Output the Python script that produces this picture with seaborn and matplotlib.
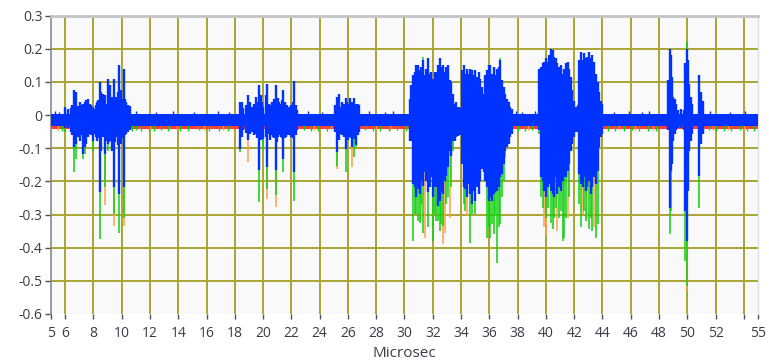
import numpy as np
import pandas as pd
import matplotlib
matplotlib.use("Agg")
import matplotlib.pyplot as plt
import seaborn as sns

# ---------------------------------------------------------------- axes text
x_ticks = [5, 6, 8, 10, 12, 14, 16, 18, 20, 22, 24, 26, 28, 30, 32, 34, 36,
           38, 40, 42, 44, 46, 48, 50, 52, 54, 55]
x_labels = ["5", "6", "8", "10", "12", "14", "16", "18", "20", "22", "24",
            "26", "28", "30", "32", "34", "36", "38", "40", "42", "44", "46",
            "48", "50", "52", "", "55"]
y_ticks = [-0.6, -0.5, -0.4, -0.3, -0.2, -0.1, 0.0, 0.1, 0.2, 0.3]
y_labels = ["-0.6", "-0.5", "-0.4", "-0.3", "-0.2", "-0.1", "0", "0.1",
            "0.2", "0.3"]
x_title = "Microsec"

# ------------------------------------------------- quiet baseline (all time)
base_t = [5.0, 55.0]
blue_base_hi = [0.002, 0.002]
blue_base_lo = [-0.032, -0.032]
red_base_lo = [-0.041, -0.041]

# small upward blips on the quiet baseline
blip_t = [5.3, 5.6, 11.0, 12.4, 13.6, 15.1, 16.8, 17.6, 23.2, 24.2, 27.5,
          28.6, 29.2, 37.9, 38.3, 39.2, 44.8, 45.9, 46.8, 47.3, 51.6, 53.0,
          54.1]
blip_hi = [0.012, 0.010, 0.012, 0.010, 0.012, 0.010, 0.012, 0.010, 0.012,
           0.010, 0.012, 0.010, 0.012, 0.012, 0.010, 0.012, 0.010, 0.012,
           0.010, 0.012, 0.012, 0.010, 0.012]

# green dips just under the baseline
dip_t = [5.8, 7.1, 10.7, 11.0, 11.4, 11.9, 12.3, 12.8, 13.3, 14.1, 14.7,
         15.5, 16.2, 16.9, 17.5, 22.9, 23.4, 23.9, 24.5, 27.2, 27.8, 28.3,
         28.9, 29.5, 30.1, 38.0, 38.5, 39.0, 44.4, 44.9, 45.5, 46.1, 46.6,
         47.2, 47.8, 51.5, 52.0, 52.6, 53.1, 53.7, 54.2, 54.7]
dip_lo = [-0.049, -0.047, -0.049, -0.046, -0.049, -0.047, -0.049, -0.046,
          -0.049, -0.047, -0.049, -0.046, -0.049, -0.047, -0.049, -0.046,
          -0.049, -0.047, -0.049, -0.046, -0.049, -0.047, -0.049, -0.046,
          -0.049, -0.047, -0.049, -0.046, -0.049, -0.047, -0.049, -0.046,
          -0.049, -0.047, -0.049, -0.046, -0.049, -0.047, -0.049, -0.046,
          -0.049, -0.047]

# orange flecks under the baseline
fleck_t = [5.5, 9.3, 12.0, 13.9, 15.8, 17.2, 23.6, 24.8, 28.0, 29.0, 38.7,
           45.2, 46.3, 47.6, 51.8, 52.9, 54.0]
fleck_lo = [-0.045, -0.044, -0.045, -0.044, -0.045, -0.044, -0.045, -0.044,
            -0.045, -0.044, -0.045, -0.044, -0.045, -0.044, -0.045, -0.044,
            -0.045]

# ------------------------------------------------ bursts: blue channel swing
burst_t = [
    # 6-11 us
    6.02, 6.20, 6.40, 6.52, 6.63, 6.75, 6.91, 7.08, 7.17, 7.27, 7.38, 7.50,
    7.62, 7.74, 7.86, 7.97, 8.09, 8.18, 8.28, 8.36, 8.44, 8.56, 8.68, 8.80,
    8.92, 9.03, 9.12, 9.20, 9.34, 9.46, 9.54, 9.62, 9.72, 9.81, 9.90, 9.98,
    10.06, 10.14, 10.23, 10.33, 10.45, 10.57,
    # 18-22.5 us
    18.40, 18.50, 18.60, 18.80, 18.93, 19.08, 19.24, 19.36, 19.48, 19.60,
    19.71, 19.83, 19.92, 20.02, 20.18, 20.30, 20.40, 20.50, 20.61, 20.72,
    20.80, 20.89, 20.97, 21.05, 21.15, 21.24, 21.33, 21.43, 21.52, 21.60,
    21.72, 21.83, 21.99, 22.10, 22.20, 22.30, 22.42,
    # 25-27 us
    25.12, 25.24, 25.36, 25.47, 25.60, 25.71, 25.83, 25.92, 26.00, 26.13,
    26.22, 26.30, 26.38, 26.46, 26.53, 26.60, 26.68, 26.77,
    # 30.3-33.8 us
    30.36, 30.48, 30.60, 30.72, 30.84, 30.95, 31.07, 31.19, 31.31, 31.42,
    31.54, 31.66, 31.78, 31.90, 32.01, 32.13, 32.25, 32.37, 32.48, 32.60,
    32.72, 32.84, 32.96, 33.07, 33.19, 33.31, 33.43, 33.55, 33.66, 33.78,
    # 33.8-37.7 us
    33.84, 33.96, 34.07, 34.19, 34.31, 34.43, 34.55, 34.66, 34.78, 34.90,
    35.02, 35.13, 35.25, 35.37, 35.49, 35.60, 35.72, 35.84, 35.96, 36.08,
    36.20, 36.31, 36.43, 36.55, 36.67, 36.78, 36.90, 37.02, 37.14, 37.26,
    37.37, 37.49, 37.61,
    # 39.5-42.2 us
    39.53, 39.65, 39.76, 39.88, 40.00, 40.12, 40.24, 40.35, 40.47, 40.59,
    40.71, 40.82, 40.94, 41.06, 41.18, 41.29, 41.41, 41.53, 41.65, 41.76,
    41.88, 42.00, 42.12,
    # 42.3-44.1 us
    42.24, 42.35, 42.47, 42.59, 42.71, 42.82, 42.94, 43.06, 43.18, 43.29,
    43.41, 43.53, 43.65, 43.76, 43.88, 44.00,
    # 48.6-51.2 us
    48.64, 48.75, 48.82, 48.92, 49.01, 49.11, 49.22, 49.34, 49.58, 49.76,
    49.86, 49.96, 50.05, 50.14, 50.24, 50.33, 50.82, 50.94, 51.11,
]
burst_hi = [
    0.024, 0.019, 0.020, 0.030, 0.075, 0.070, 0.029, 0.039, 0.030, 0.034,
    0.039, 0.046, 0.049, 0.034, 0.030, 0.024, 0.019, 0.030, 0.039, 0.045,
    0.100, 0.070, 0.065, 0.060, 0.034, 0.110, 0.060, 0.090, 0.055, 0.110,
    0.050, 0.055, 0.070, 0.150, 0.060, 0.075, 0.050, 0.140, 0.050, 0.039,
    0.030, 0.029,
    0.040, 0.040, 0.020, 0.030, 0.061, 0.040, 0.025, 0.035, 0.056, 0.040,
    0.092, 0.061, 0.040, 0.025, 0.060, 0.095, 0.035, 0.030, 0.040, 0.035,
    0.050, 0.092, 0.045, 0.051, 0.040, 0.035, 0.045, 0.075, 0.040, 0.020,
    0.030, 0.025, 0.030, 0.040, 0.102, 0.030, 0.015,
    0.030, 0.056, 0.065, 0.025, 0.040, 0.035, 0.051, 0.040, 0.035, 0.051,
    0.040, 0.035, 0.040, 0.051, 0.035, 0.035, 0.035, 0.030,
    0.049, 0.090, 0.120, 0.130, 0.150, 0.150, 0.135, 0.145, 0.166, 0.120,
    0.140, 0.171, 0.125, 0.130, 0.110, 0.130, 0.130, 0.150, 0.171, 0.145,
    0.150, 0.130, 0.145, 0.150, 0.105, 0.100, 0.065, 0.034, 0.039, 0.024,
    0.024, 0.020, 0.135, 0.150, 0.125, 0.140, 0.125, 0.140, 0.135, 0.120,
    0.135, 0.115, 0.130, 0.110, 0.085, 0.065, 0.120, 0.135, 0.150, 0.150,
    0.125, 0.145, 0.120, 0.140, 0.145, 0.166, 0.105, 0.085, 0.065, 0.049,
    0.039, 0.024, 0.019,
    0.140, 0.145, 0.156, 0.161, 0.171, 0.161, 0.181, 0.201, 0.196, 0.176,
    0.171, 0.156, 0.145, 0.151, 0.125, 0.140, 0.156, 0.161, 0.140, 0.115,
    0.075, 0.044, 0.024,
    0.030, 0.166, 0.191, 0.166, 0.186, 0.171, 0.176, 0.191, 0.171, 0.181,
    0.161, 0.125, 0.100, 0.070, 0.044, 0.034,
    0.105, 0.201, 0.181, 0.115, 0.055, 0.049, 0.034, 0.014, 0.019, 0.014,
    0.156, 0.201, 0.166, 0.095, 0.055, 0.034, 0.120, 0.070, 0.044,
]
burst_lo = [
    -0.038, -0.038, -0.050, -0.060, -0.097, -0.087, -0.067, -0.077, -0.060,
    -0.117, -0.097, -0.087, -0.067, -0.057, -0.060, -0.077, -0.057, -0.065,
    -0.077, -0.070, -0.233, -0.107, -0.067, -0.117, -0.077, -0.087, -0.080,
    -0.077, -0.107, -0.218, -0.080, -0.067, -0.090, -0.238, -0.080, -0.087,
    -0.070, -0.218, -0.060, -0.057, -0.050, -0.046,
    -0.101, -0.066, -0.045, -0.055, -0.076, -0.056, -0.050, -0.060, -0.056,
    -0.070, -0.167, -0.076, -0.060, -0.071, -0.066, -0.157, -0.056, -0.076,
    -0.060, -0.066, -0.070, -0.167, -0.080, -0.066, -0.060, -0.066, -0.070,
    -0.131, -0.070, -0.066, -0.060, -0.061, -0.066, -0.070, -0.172, -0.060,
    -0.045,
    -0.050, -0.111, -0.076, -0.056, -0.060, -0.066, -0.101, -0.070, -0.076,
    -0.066, -0.070, -0.096, -0.065, -0.071, -0.070, -0.091, -0.060, -0.050,
    -0.077, -0.077, -0.208, -0.218, -0.248, -0.223, -0.238, -0.198, -0.213,
    -0.173, -0.198, -0.233, -0.218, -0.188, -0.248, -0.218, -0.218, -0.274,
    -0.259, -0.233, -0.238, -0.198, -0.183, -0.158, -0.107, -0.122, -0.077,
    -0.077, -0.067, -0.062,
    -0.057, -0.060, -0.147, -0.218, -0.223, -0.248, -0.208, -0.238, -0.269,
    -0.228, -0.259, -0.218, -0.238, -0.198, -0.163, -0.173, -0.198, -0.218,
    -0.259, -0.248, -0.259, -0.238, -0.233, -0.228, -0.218, -0.188, -0.178,
    -0.147, -0.107, -0.097, -0.087, -0.067, -0.057,
    -0.046, -0.188, -0.198, -0.228, -0.248, -0.218, -0.208, -0.228, -0.238,
    -0.248, -0.188, -0.238, -0.218, -0.228, -0.198, -0.188, -0.188, -0.168,
    -0.147, -0.107, -0.087, -0.067, -0.052,
    -0.050, -0.178, -0.208, -0.218, -0.188, -0.228, -0.218, -0.198, -0.238,
    -0.218, -0.188, -0.208, -0.168, -0.097, -0.067, -0.057,
    -0.046, -0.279, -0.168, -0.147, -0.077, -0.057, -0.046, -0.040, -0.040,
    -0.046, -0.289, -0.380, -0.228, -0.107, -0.077, -0.057, -0.183, -0.087,
    -0.057,
]

# ---------------------------------------- green channel tails below the blue
green_t = [6.02, 6.63, 6.75, 7.27, 7.38, 7.97, 8.44, 8.80, 9.03, 9.46, 9.81,
           10.14,
           18.40, 19.71, 20.02, 20.30, 20.89, 21.43, 22.20,
           25.24, 25.83, 26.46, 26.60,
           30.60, 30.72, 30.84, 30.95, 31.07, 31.19, 31.31, 31.66, 32.01,
           32.13, 32.25, 32.37, 32.48, 32.60, 32.72, 32.96, 33.07, 33.31,
           33.43,
           34.19, 34.31, 34.66, 34.78, 35.02, 35.84, 35.96, 36.08, 36.20,
           36.31, 36.43, 36.55, 36.67, 36.78, 36.90, 37.02, 37.14,
           39.53, 39.65, 39.76, 40.00, 40.12, 40.35, 40.47, 40.59, 40.71,
           40.94, 41.06, 41.18, 41.29, 41.41, 41.65,
           42.35, 42.47, 42.71, 42.82, 43.06, 43.18, 43.29, 43.53, 43.65,
           48.75, 48.82, 49.86, 49.96, 50.82]
green_lo = [-0.052, -0.173, -0.132, -0.132, -0.117, -0.107, -0.375, -0.218,
            -0.107, -0.299, -0.355, -0.309,
            -0.111, -0.263, -0.106, -0.222, -0.242, -0.172, -0.260,
            -0.152, -0.172, -0.126, -0.096,
            -0.380, -0.299, -0.299, -0.319, -0.324, -0.269, -0.355, -0.339,
            -0.380, -0.299, -0.319, -0.319, -0.349, -0.329, -0.334, -0.269,
            -0.248, -0.218, -0.107,
            -0.269, -0.289, -0.385, -0.299, -0.299, -0.370, -0.339, -0.370,
            -0.329, -0.360, -0.299, -0.445, -0.339, -0.329, -0.248, -0.198,
            -0.127,
            -0.057, -0.248, -0.279, -0.309, -0.279, -0.324, -0.344, -0.309,
            -0.279, -0.309, -0.289, -0.380, -0.370, -0.309, -0.248,
            -0.269, -0.339, -0.289, -0.319, -0.344, -0.309, -0.349, -0.370,
            -0.329,
            -0.360, -0.289, -0.440, -0.515, -0.279]

# orange (red + green overlap) tips at the bottom of some tails
orange_t = [8.80, 9.46, 10.14, 18.93, 20.30, 20.89, 25.24, 26.30, 31.19,
            31.42, 32.72, 32.84, 33.19, 34.43, 39.88, 40.00, 40.82, 41.53,
            42.59, 42.94, 43.41, 49.96]
orange_lo = [-0.270, -0.334, -0.334, -0.141, -0.253, -0.278, -0.162, -0.157,
             -0.319, -0.370, -0.390, -0.355, -0.309, -0.304, -0.339, -0.365,
             -0.349, -0.309, -0.299, -0.309, -0.339, -0.530]

# green tips poking above the blue peaks
tip_t = [31.31, 36.78, 49.96]
tip_hi = [0.175, 0.172, 0.221]

# -------------------------------------------------------------------- style
BLUE = "#0033ff"
GREEN = "#10d010"
ORANGE = "#ffa040"
RED = "#ff3a3a"
GRID = "#aaa333"
TEXT = "#3c3c48"
TAIL_TOP = -0.030


def strokes(ts, lows, highs):
    rows = []
    for i, (t, lo, hi) in enumerate(zip(ts, lows, highs)):
        rows.append((i, t, lo))
        rows.append((i, t, hi))
    return pd.DataFrame(rows, columns=["stroke", "t", "v"])


plt.rcParams["font.family"] = ["Open Sans", "DejaVu Sans"]

fig = plt.figure(figsize=(7.69, 3.64), dpi=100)
ax = fig.add_axes([0.0663, 0.1374, 0.9194, 0.8195])
ax.set_facecolor("#f9f9f9")


def draw(df, color, lw, z):
    sns.lineplot(data=df, x="t", y="v", units="stroke", estimator=None,
                 sort=False, color=color, linewidth=lw, legend=False, ax=ax,
                 zorder=z, solid_capstyle="butt")


# baseline bands
ax.fill_between(base_t, red_base_lo, blue_base_lo, color=RED, lw=0,
                zorder=2)
ax.fill_between(base_t, blue_base_lo, blue_base_hi, color=BLUE, lw=0,
                zorder=5)

draw(strokes(fleck_t, fleck_lo, [TAIL_TOP] * len(fleck_t)), ORANGE, 1.0, 3)
draw(strokes(dip_t, dip_lo, [TAIL_TOP] * len(dip_t)), GREEN, 1.0, 3)
draw(strokes(orange_t, orange_lo, [TAIL_TOP] * len(orange_t)), ORANGE, 1.1, 3)
draw(strokes(green_t, green_lo, [TAIL_TOP] * len(green_t)), GREEN, 1.1, 4)
draw(strokes(tip_t, [0.0] * len(tip_t), tip_hi), GREEN, 1.1, 4)
draw(strokes(blip_t, [0.0] * len(blip_t), blip_hi), BLUE, 1.0, 5)
draw(strokes(burst_t, burst_lo, burst_hi), BLUE, 1.7, 6)

# axes cosmetics
ax.set_xlim(5, 55)
ax.set_ylim(-0.6, 0.3)
ax.set_xticks(x_ticks)
ax.set_xticklabels(x_labels)
ax.set_yticks(y_ticks)
ax.set_yticklabels(y_labels)
ax.set_xlabel(x_title, fontsize=11, color=TEXT, labelpad=4)
ax.set_ylabel("")
ax.tick_params(axis="both", labelsize=10, colors="#505058",
               labelcolor=TEXT, width=1.0)
ax.tick_params(axis="x", length=3.5, pad=5)
ax.tick_params(axis="y", length=4, pad=2)

ax.set_axisbelow(True)
ax.grid(True, color=GRID, linewidth=1.4)
for line, tick in zip(ax.xaxis.get_gridlines(), x_ticks):
    if tick in (5, 55):
        line.set_visible(False)
for line, tick in zip(ax.yaxis.get_gridlines(), y_ticks):
    if tick in (-0.6, 0.3):
        line.set_visible(False)

ax.spines["left"].set_color("#8a8a8a")
ax.spines["left"].set_linewidth(1.2)
ax.spines["top"].set_color("#c4c4c4")
ax.spines["top"].set_linewidth(2.0)
ax.spines["right"].set_color("#dedede")
ax.spines["right"].set_linewidth(1.0)
ax.spines["bottom"].set_visible(False)

fig.savefig("out.png", dpi=100, facecolor="white")
